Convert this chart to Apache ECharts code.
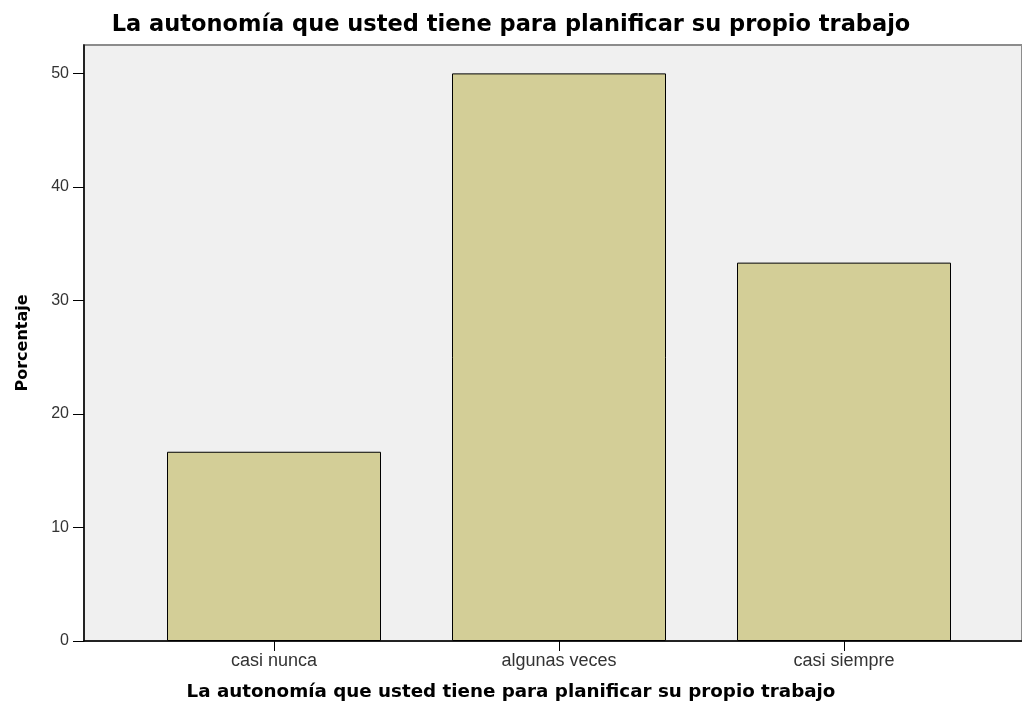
<!DOCTYPE html>
<html>
<head>
<meta charset="utf-8">
<script src="https://cdn.jsdelivr.net/npm/echarts@6/dist/echarts.min.js"></script>
<style>
  html, body { margin: 0; padding: 0; background: #fff; }
  #chart { width: 1022px; height: 709px; }
</style>
</head>
<body>
<div id="chart"></div>
<script>
  const categories = ['casi nunca', 'algunas veces', 'casi siempre'];
  const percentages = [16.67, 50.0, 33.33];
  const yTicks = [0, 10, 20, 30, 40, 50];
  const titleText = 'La autonomía que usted tiene para planificar su propio trabajo';

  const chart = echarts.init(document.getElementById('chart'));

  chart.setOption({
    animation: false,
    textStyle: { fontFamily: 'Liberation Sans, Arial, sans-serif' },
    title: [
      {
        text: titleText,
        left: 'center',
        top: 9,
        textStyle: { fontSize: 22.5, fontWeight: 'bold', color: '#000', fontFamily: 'DejaVu Sans, sans-serif' }
      },
      {
        // x axis name, centred under the chart
        text: titleText,
        left: 'center',
        top: 678,
        textStyle: { fontSize: 18.3, fontWeight: 'bold', color: '#000', fontFamily: 'DejaVu Sans, sans-serif' }
      }
    ],
    grid: [
      {
        // background panel with the y axis
        left: 84, right: -2, top: 45, bottom: 68,
        show: true,
        backgroundColor: '#f0f0f0',
        borderColor: '#8c8c8c',
        borderWidth: 2
      },
      {
        // inner band area where the bars sit
        left: 131.5, right: 35.5, top: 45, bottom: 68
      }
    ],
    xAxis: [
      {
        gridIndex: 0,
        type: 'value',
        min: 0, max: 1,
        axisLine: { show: true, lineStyle: { color: '#000', width: 1.5 } },
        axisTick: { show: false },
        axisLabel: { show: false },
        splitLine: { show: false }
      },
      {
        gridIndex: 1,
        type: 'category',
        data: categories,
        axisLine: { show: false },
        axisTick: { show: true, alignWithLabel: true, length: 10, lineStyle: { color: '#000' } },
        axisLabel: { color: '#333', fontSize: 18, margin: 11 }
      }
    ],
    yAxis: [
      {
        gridIndex: 0,
        type: 'value',
        min: 0, max: 52.5,
        name: 'Porcentaje',
        nameLocation: 'middle',
        nameGap: 53,
        nameTextStyle: { fontSize: 16, fontWeight: 'bold', color: '#000', fontFamily: 'DejaVu Sans, sans-serif' },
        axisLine: { show: true, lineStyle: { color: '#000', width: 1.5 } },
        axisTick: { show: true, length: 11, customValues: yTicks, lineStyle: { color: '#000' } },
        axisLabel: { color: '#333', fontSize: 16, margin: 15, customValues: yTicks },
        splitLine: { show: false }
      },
      {
        gridIndex: 1,
        type: 'value',
        min: 0, max: 52.5,
        show: false,
        splitLine: { show: false }
      }
    ],
    series: [
      {
        type: 'bar',
        xAxisIndex: 1,
        yAxisIndex: 1,
        data: percentages,
        barWidth: 214,
        itemStyle: { color: '#d3ce97', borderColor: '#000', borderWidth: 1 }
      }
    ]
  });
</script>
</body>
</html>
